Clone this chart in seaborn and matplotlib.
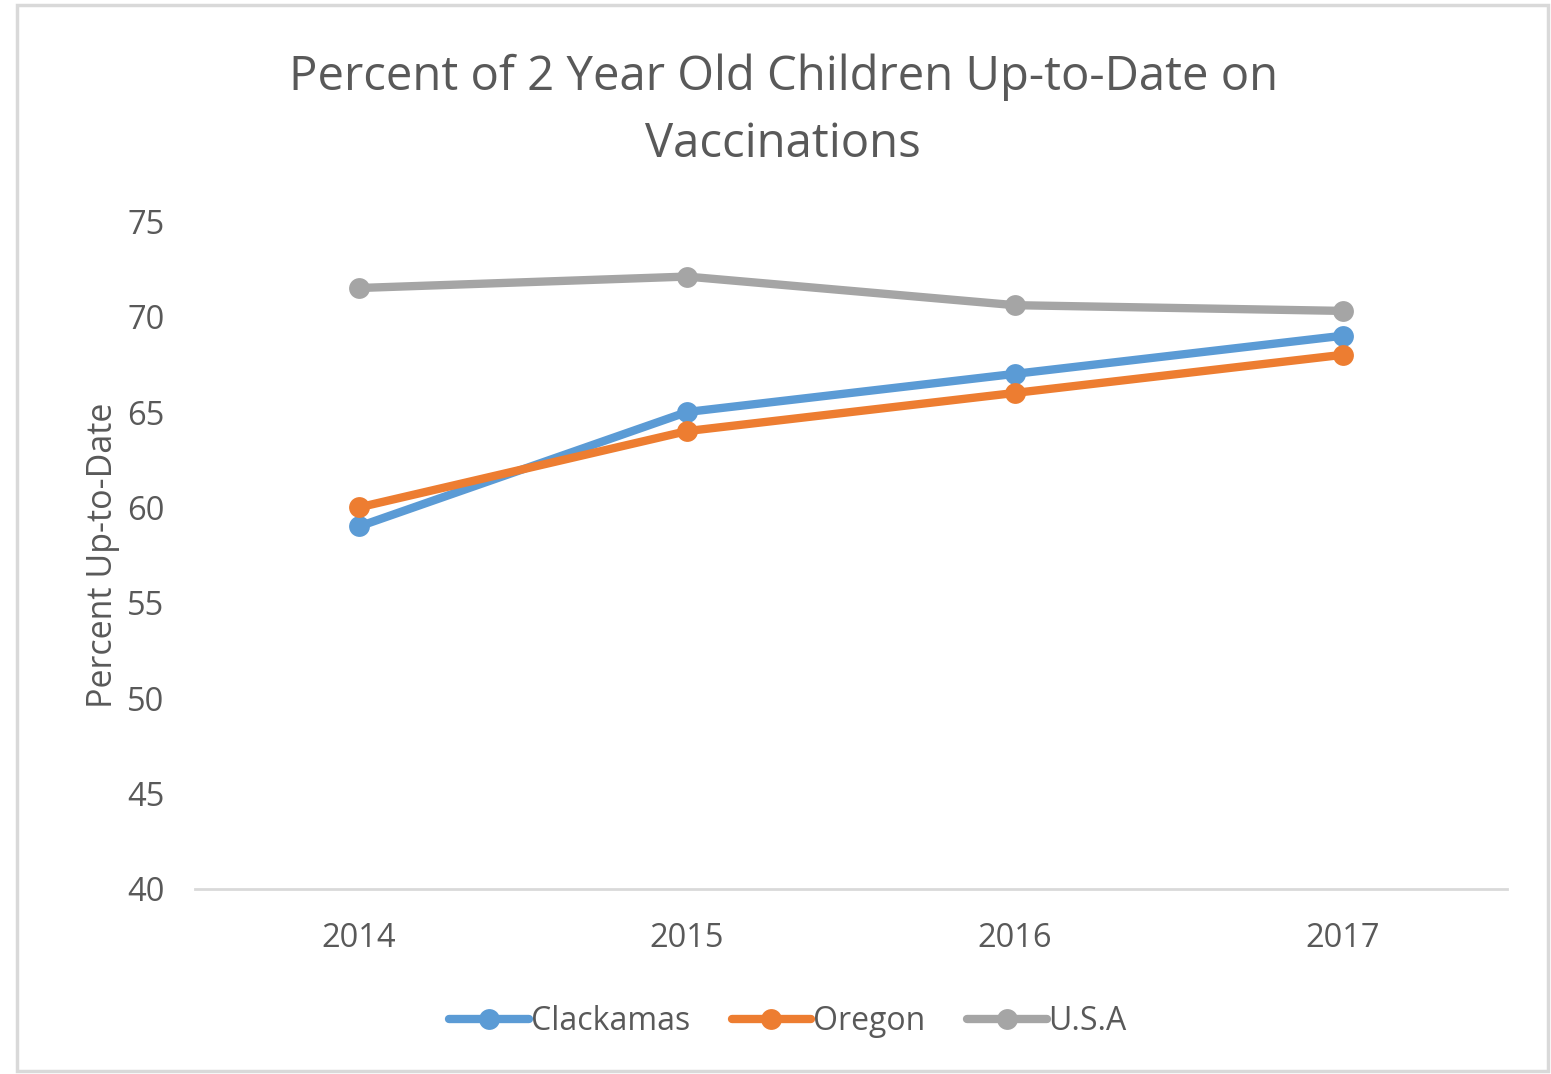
import seaborn as sns
import matplotlib.pyplot as plt
import pandas as pd
from matplotlib.patches import Rectangle

years = ["2014", "2015", "2016", "2017"]
clackamas = [59, 65, 67, 69]
oregon = [60, 64, 66, 68]
usa = [71.5, 72.1, 70.6, 70.3]
series_names = ["Clackamas", "Oregon", "U.S.A"]
colors = ["#5B9BD5", "#ED7D31", "#A5A5A5"]

rows = []
for name, vals in zip(series_names, [clackamas, oregon, usa]):
    for i, v in enumerate(vals):
        rows.append({"pos": i, "year": years[i], "value": v, "series": name})
df = pd.DataFrame(rows)

sns.set_style("white")
plt.rcParams["font.family"] = ["Open Sans", "DejaVu Sans"]
text_color = "#595959"

fig = plt.figure(figsize=(15.51, 10.74), dpi=100)
ax = fig.add_axes([0.1257, 0.1723, 0.9716 - 0.1257, 0.794 - 0.1723])

sns.lineplot(data=df, x="pos", y="value", hue="series", palette=colors,
             marker="o", markersize=15, markeredgewidth=0, linewidth=6,
             ax=ax, legend=False)

ax.set_xlim(-0.5, 3.5)
ax.set_ylim(40, 75)
ax.set_xticks(range(len(years)))
ax.set_xticklabels(years)
ax.set_yticks(range(40, 76, 5))
ax.tick_params(axis="both", length=0, labelsize=23.5, colors=text_color)
ax.tick_params(axis="y", pad=22)
ax.tick_params(axis="x", pad=24)
for s in ["top", "right", "left"]:
    ax.spines[s].set_visible(False)
ax.spines["bottom"].set_color("#D9D9D9")
ax.spines["bottom"].set_linewidth(2)
ax.set_xlabel("")
ax.set_ylabel("Percent Up-to-Date", fontsize=24.5, color=text_color, labelpad=5)

fig.text(0.505, 0.897, "Percent of 2 Year Old Children Up-to-Date on\nVaccinations",
         ha="center", va="center", fontsize=34, color=text_color, linespacing=1.52)

handles = [plt.Line2D([0], [0], color=c, lw=6, marker="o", markersize=15,
                      markeredgewidth=0) for c in colors]
fig.legend(handles, series_names, loc="center", bbox_to_anchor=(0.508, 0.049),
           ncol=3, frameon=False, fontsize=23, handlelength=2.5,
           handletextpad=0.05, columnspacing=1.3, labelcolor=text_color)

fig.patches.append(Rectangle((0.011, 0.003), 0.987, 0.992, transform=fig.transFigure,
                             fill=False, edgecolor="#D9D9D9", linewidth=2.5))

fig.savefig("out.png", dpi=100)
